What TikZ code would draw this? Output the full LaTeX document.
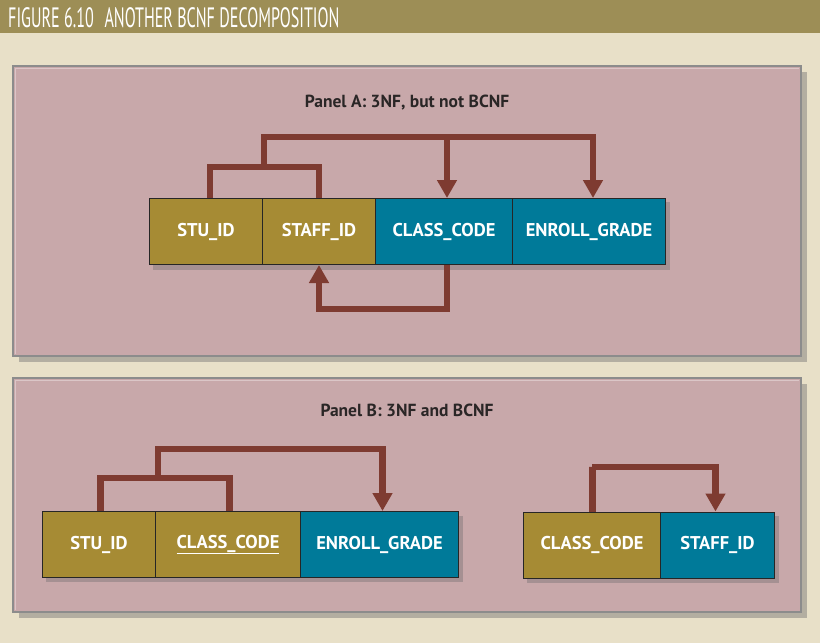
\documentclass[tikz,border=0pt]{standalone}
\usepackage{fontspec}
\setmainfont{PT Sans}
\usetikzlibrary{arrows.meta,calc}
\definecolor{bgc}{HTML}{E8E0C8}
\definecolor{barc}{HTML}{9D8E56}
\definecolor{panelc}{HTML}{C8A8AA}
\definecolor{olivec}{HTML}{A68B34}
\definecolor{tealc}{HTML}{007A99}
\definecolor{arrc}{HTML}{7E3B31}
\definecolor{txtc}{HTML}{2A2626}
\tikzset{
  panelbox/.style={draw=black!45, line width=1.6pt, fill=panelc},
  panelshadow/.style={fill=black!55, opacity=0.45},
  cellbox/.style={draw=black!85, line width=1pt, minimum height=66pt, inner sep=0pt,
     text=white, font=\fontsize{18.5}{20}\selectfont\bfseries, anchor=west},
  olivebox/.style={cellbox, fill=olivec},
  tealbox/.style={cellbox, fill=tealc},
  groupshadow/.style={fill=black!60, opacity=0.35},
  fd/.style={draw=arrc, line width=6.5pt},
  fdarrow/.style={fd, -{Triangle[length=18pt,width=19pt]}},
  paneltitle/.style={text=txtc, font=\fontsize{17.5}{19}\selectfont\bfseries},
}
\begin{document}
\begin{tikzpicture}[x=1pt,y=-1pt]
\useasboundingbox (0,0) rectangle (820,643);
\fill[bgc] (0,0) rectangle (820,643);
\fill[barc] (0,0) rectangle (820,33);
\node[anchor=base west, inner sep=0pt, text=white] (title) at (8,27.5)
  {\scalebox{0.575}[1]{\fontsize{28}{30}\selectfont FIGURE 6.10\hspace{0.4em} ANOTHER BCNF DECOMPOSITION}};

% Panel A
\fill[panelshadow] (19,72) rectangle (807,362);
\draw[panelbox] (13,66) rectangle (801,356);
\draw[white, opacity=0.35, line width=1pt] (15.5,354) -- (15.5,68.5) -- (798.5,68.5);
\node[paneltitle] (pa) at (407,103) {Panel A: 3NF, but not BCNF};

\fill[groupshadow] (153,202) rectangle (670,270);
\node[olivebox, minimum width=113pt] (a1) at (149,231.5) {STU\_ID};
\node[olivebox, minimum width=113pt] (a2) at (262,231.5) {STAFF\_ID};
\node[tealbox, minimum width=137pt] (a3) at (375,231.5) {CLASS\_CODE};
\node[tealbox, minimum width=153pt] (a4) at (512,231.5) {ENROLL\_GRADE};

\coordinate (ja) at (264,167);
\coordinate (ta) at (264,137);
\draw[fd] ([xshift=4pt]a1.north) |- (ja) -| (a2.north);
\draw[fdarrow] (ja) -- (ta) -| ([xshift=3pt]a3.north);
\draw[fdarrow] (ta) -| ([xshift=4pt]a4.north);
\draw[fdarrow] ([xshift=3pt]a3.south) -- ++(0,44) -| (a2.south);

% Panel B
\fill[panelshadow] (19,384) rectangle (807,618);
\draw[panelbox] (13,378) rectangle (801,612);
\draw[white, opacity=0.35, line width=1pt] (15.5,610) -- (15.5,380.5) -- (798.5,380.5);
\node[paneltitle] (pb) at (407,410) {Panel B: 3NF and BCNF};

\fill[groupshadow] (46,516) rectangle (463,582);
\node[olivebox, minimum width=113pt] (b1) at (42,544.5) {STU\_ID};
\node[olivebox, minimum width=145pt] (b2) at (155,544.5) {\underline{CLASS\_CODE}};
\node[tealbox, minimum width=158pt] (b3) at (300,544.5) {ENROLL\_GRADE};

\coordinate (jb) at (158,478);
\coordinate (tb) at (158,449);
\draw[fd] ([xshift=1.5pt]b1.north) |- (jb) -| ([xshift=1.5pt]b2.north);
\draw[fdarrow] (jb) -- (tb) -| ([xshift=3pt]b3.north);

\fill[groupshadow] (527,516) rectangle (779,583);
\node[olivebox, minimum width=137pt] (c1) at (523,545) {CLASS\_CODE};
\node[tealbox, minimum width=114pt] (c2) at (660,545) {STAFF\_ID};
\coordinate (tc) at (592,467);
\draw[fdarrow] ([xshift=0.5pt]c1.north) |- (tc) -| ([xshift=-2pt]c2.north);
\end{tikzpicture}
\end{document}
